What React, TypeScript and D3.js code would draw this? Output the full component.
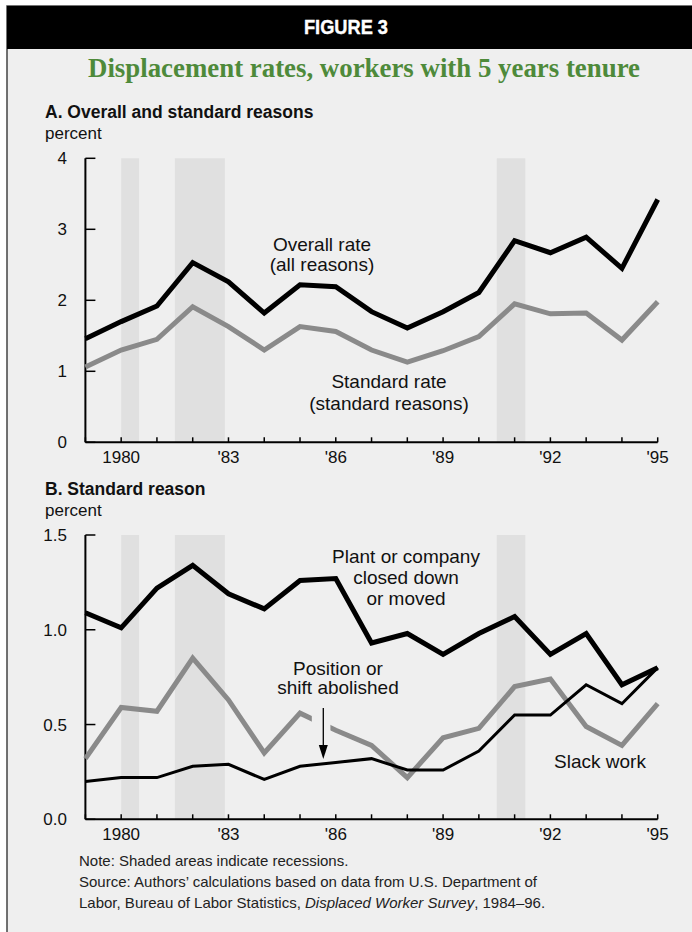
import React from "react";
import * as d3 from "d3";

const years = d3.range(1979, 1996);
const overallRate = [1.46, 1.70, 1.92, 2.53, 2.26, 1.82, 2.22, 2.19, 1.84, 1.61, 1.84, 2.11, 2.84, 2.67, 2.89, 2.45, 3.42];
const standardRate = [1.06, 1.30, 1.45, 1.91, 1.63, 1.30, 1.63, 1.56, 1.30, 1.13, 1.29, 1.49, 1.95, 1.81, 1.82, 1.44, 1.98];
const plantClosed = [1.09, 1.01, 1.22, 1.34, 1.19, 1.11, 1.26, 1.27, 0.93, 0.98, 0.87, 0.98, 1.07, 0.87, 0.98, 0.71, 0.80];
const slackWork = [0.32, 0.59, 0.57, 0.85, 0.63, 0.35, 0.56, 0.47, 0.39, 0.22, 0.43, 0.48, 0.70, 0.74, 0.49, 0.39, 0.61];
const positionAbolished = [0.20, 0.22, 0.22, 0.28, 0.29, 0.21, 0.28, 0.30, 0.32, 0.26, 0.26, 0.36, 0.55, 0.55, 0.71, 0.61, 0.80];
const recessions: [number, number][] = [[1980.0, 1980.5], [1981.5, 1982.9], [1990.5, 1991.3]];
const xTickYears = [1980, 1983, 1986, 1989, 1992, 1995];
const xTickLabels = ["1980", "'83", "'86", "'89", "'92", "'95"];
const yTicksA = [0, 1, 2, 3, 4];
const yTicksB = [0, 0.5, 1.0, 1.5];

const BG = "#efefef";
const SHADE = "#e0e0e0";
const GRAY = "#8a8a8a";
const SANS = "'Liberation Sans', Arial, sans-serif";

const x = d3.scaleLinear().domain([1979, 1995]).range([85.4, 657.7]);
const yA = d3.scaleLinear().domain([0, 4]).range([442.3, 158.3]);
const yB = d3.scaleLinear().domain([0, 1.5]).range([819.3, 535]);

function Panel({ y, ticks, fmt }: { y: d3.ScaleLinear<number, number>; ticks: number[]; fmt: (v: number) => string }) {
  const [y0, y1] = y.range();
  return (
    <g>
      {recessions.map(([a, b], i) => (
        <rect key={i} x={x(a)} y={y1} width={x(b) - x(a)} height={y0 - y1} fill={SHADE} />
      ))}
      <line x1={x(1979)} x2={x(1979)} y1={y1} y2={y0} stroke="#000" strokeWidth={2} />
      <line x1={x(1979)} x2={x(1995)} y1={y0} y2={y0} stroke="#000" strokeWidth={2} />
      {years.map((yr) => (
        <line key={yr} x1={x(yr)} x2={x(yr)} y1={y0} y2={y0 - 5} stroke="#000" strokeWidth={1.5} />
      ))}
      {ticks.map((t) => (
        <g key={t}>
          <line x1={x(1979)} x2={x(1979) + 10} y1={y(t)} y2={y(t)} stroke="#000" strokeWidth={1.5} />
          <text x={67} y={y(t) + 6} textAnchor="end" fontSize={17} fontFamily={SANS} fill="#111">{fmt(t)}</text>
        </g>
      ))}
      {xTickYears.map((yr, i) => (
        <text key={yr} x={x(yr)} y={y0 + 21} textAnchor="middle" fontSize={17} fontFamily={SANS} fill="#111">{xTickLabels[i]}</text>
      ))}
    </g>
  );
}

export default function App() {
  const lineA = d3.line<number>().x((_, i) => x(years[i])).y((d) => yA(d));
  const lineB = d3.line<number>().x((_, i) => x(years[i])).y((d) => yB(d));
  const arrowX = 323.3;
  return (
    <svg width={692} height={932} style={{ position: "absolute", left: 0, top: 0, background: "#fff" }}>
      <rect x={7} y={6} width={700} height={940} fill={BG} stroke="#444" strokeWidth={1.5} />
      <rect x={7} y={6} width={700} height={43} fill="#000" />
      <text x={346} y={34} textAnchor="middle" fill="#fff" fontSize={21} fontWeight="bold" fontFamily={SANS} stroke="#fff" strokeWidth={0.4} textLength={84} lengthAdjust="spacingAndGlyphs">FIGURE 3</text>
      <text x={364} y={77} textAnchor="middle" fill="#4e8a3a" fontSize={27} fontWeight="bold" fontFamily="'Liberation Serif', 'Times New Roman', serif" textLength={552} lengthAdjust="spacingAndGlyphs">Displacement rates, workers with 5 years tenure</text>

      <text x={45} y={118} fontSize={17.5} fontWeight="bold" fontFamily={SANS} fill="#111">A. Overall and standard reasons</text>
      <text x={45} y={139} fontSize={17} fontFamily={SANS} fill="#111">percent</text>
      <Panel y={yA} ticks={yTicksA} fmt={(v) => String(v)} />
      <path d={lineA(standardRate) || ""} fill="none" stroke={GRAY} strokeWidth={5} strokeLinejoin="miter" />
      <path d={lineA(overallRate) || ""} fill="none" stroke="#000" strokeWidth={5} strokeLinejoin="miter" />
      <g fontSize={19} fontFamily={SANS} fill="#111" textAnchor="middle">
        <text x={322} y={251}>Overall rate</text>
        <text x={322} y={271}>(all reasons)</text>
        <text x={389} y={388}>Standard rate</text>
        <text x={389} y={410}>(standard reasons)</text>
      </g>

      <text x={45} y={495} fontSize={17.5} fontWeight="bold" fontFamily={SANS} fill="#111">B. Standard reason</text>
      <text x={45} y={516} fontSize={17} fontFamily={SANS} fill="#111">percent</text>
      <Panel y={yB} ticks={yTicksB} fmt={(v) => v.toFixed(1)} />
      <path d={lineB(slackWork) || ""} fill="none" stroke={GRAY} strokeWidth={5} strokeLinejoin="miter" />
      <rect x={x(1985.33)} y={yB(0.58)} width={x(1985.85) - x(1985.33)} height={yB(0.4) - yB(0.58)} fill={BG} />
      <path d={lineB(positionAbolished) || ""} fill="none" stroke="#000" strokeWidth={3} strokeLinejoin="miter" />
      <path d={lineB(plantClosed) || ""} fill="none" stroke="#000" strokeWidth={5} strokeLinejoin="miter" />
      <line x1={arrowX} x2={arrowX} y1={708} y2={748} stroke="#000" strokeWidth={1.3} />
      <path d={`M${arrowX - 4.5},${745} L${arrowX + 4.5},${745} L${arrowX},${759} Z`} fill="#000" />
      <g fontSize={19} fontFamily={SANS} fill="#111" textAnchor="middle">
        <text x={406} y={563}>Plant or company</text>
        <text x={406} y={584}>closed down</text>
        <text x={406} y={605}>or moved</text>
        <text x={338} y={675}>Position or</text>
        <text x={338} y={694}>shift abolished</text>
        <text x={600} y={768}>Slack work</text>
      </g>

      <g fontSize={15} fontFamily={SANS} fill="#222">
        <text x={79} y={866}>Note: Shaded areas indicate recessions.</text>
        <text x={79} y={887}>Source: Authors’ calculations based on data from U.S. Department of</text>
        <text x={79} y={908}>Labor, Bureau of Labor Statistics, <tspan fontStyle="italic">Displaced Worker Survey</tspan>, 1984–96.</text>
      </g>
    </svg>
  );
}
